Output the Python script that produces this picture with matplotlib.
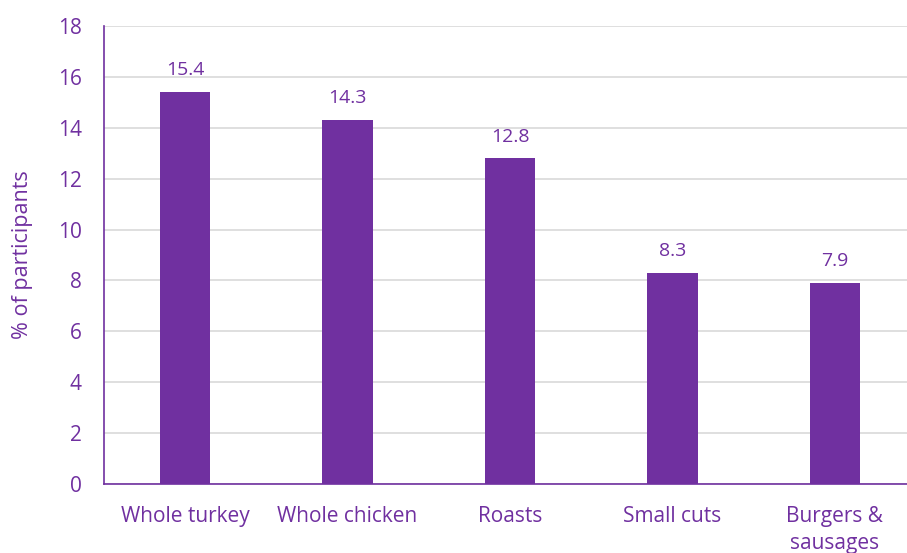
import matplotlib
matplotlib.use('Agg')
import matplotlib.pyplot as plt

# Data
categories = ['Whole turkey', 'Whole chicken', 'Roasts', 'Small cuts', 'Burgers &\nsausages']
values = [15.4, 14.3, 12.8, 8.3, 7.9]
yticks = [0, 2, 4, 6, 8, 10, 12, 14, 16, 18]

purple = '#7030A0'
plt.rcParams['font.family'] = ['Open Sans', 'DejaVu Sans']
fs = 15

fig = plt.figure(figsize=(9.07, 5.53), dpi=100)
ax = fig.add_axes([0.1147, 0.1248, 0.8853, 0.8282])

x = range(len(categories))
bars = ax.bar(x, values, width=0.31, color=purple, zorder=3)

# value labels above bars
for b, v in zip(bars, values):
    ax.text(b.get_x() + b.get_width() / 2, v + 0.5, f'{v}', ha='center', va='bottom',
            color=purple, fontsize=14)

ax.set_ylim(0, 18)
ax.set_xlim(-0.5, 4.445)
ax.set_yticks(yticks)
ax.set_xticks(list(x))
ax.set_xticklabels(categories, color=purple, fontsize=fs, linespacing=1.35)
ax.tick_params(axis='y', colors=purple, labelsize=fs, length=0, pad=16)
ax.tick_params(axis='x', length=0, pad=16)

ax.grid(axis='y', color='#D9D9D9', linewidth=1.2, zorder=0)
for s in ['top', 'right']:
    ax.spines[s].set_visible(False)
ax.spines['left'].set_color(purple)
ax.spines['bottom'].set_color(purple)
ax.spines['left'].set_linewidth(1.2)
ax.spines['bottom'].set_linewidth(1.2)

ax.set_ylabel('% of participants', color=purple, fontsize=15.5)
ax.yaxis.set_label_coords(-0.089, 0.5)

plt.savefig('out.png', dpi=100)
